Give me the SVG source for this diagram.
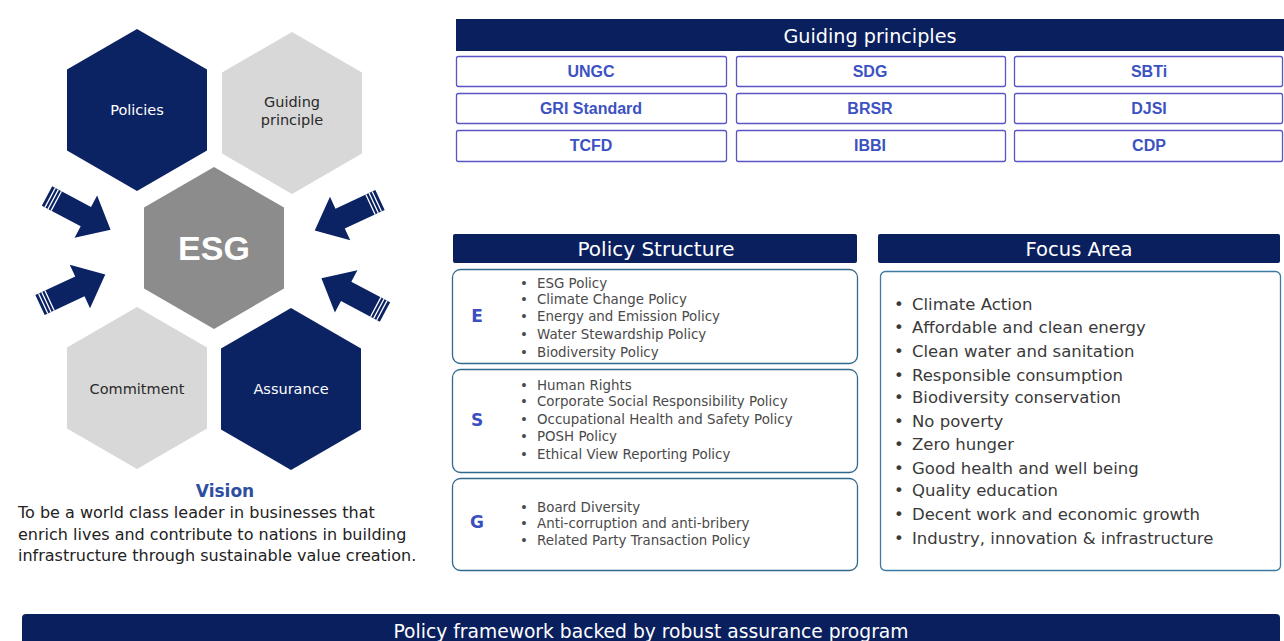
<svg xmlns="http://www.w3.org/2000/svg" width="1284" height="641" viewBox="0 0 1284 641">
<defs>
<style>
.navy{fill:#0b2363}
.lgray{fill:#d8d8d8}
.hdr{fill:#0a1f5e}
.hdrtxt{font-family:"DejaVu Sans","Liberation Sans",sans-serif;font-size:19px;fill:#ffffff;text-anchor:middle;dominant-baseline:central}
.gbox{fill:#ffffff;stroke:#5a55c4;stroke-width:1.3}
.gtxt{font-family:"Liberation Sans",Arial,sans-serif;font-size:16px;font-weight:bold;fill:#3c52c2;text-anchor:middle;dominant-baseline:central}
.pbox{fill:#ffffff;stroke:#2f6a8c;stroke-width:1.3}
.letter{font-family:"DejaVu Sans","Liberation Sans",sans-serif;font-size:17px;font-weight:bold;fill:#3c4fc0;text-anchor:middle;dominant-baseline:central}
.item{font-family:"DejaVu Sans","Liberation Sans",sans-serif;font-size:13.4px;fill:#4a4a4a;dominant-baseline:central}
.fitem{font-family:"DejaVu Sans","Liberation Sans",sans-serif;font-size:16.5px;fill:#3a3a3a;dominant-baseline:central}
.htw{font-family:"DejaVu Sans","Liberation Sans",sans-serif;font-size:14.5px;fill:#ffffff;text-anchor:middle;dominant-baseline:central}
.htd{font-family:"DejaVu Sans","Liberation Sans",sans-serif;font-size:14.5px;fill:#2a2a2a;text-anchor:middle;dominant-baseline:central}
.vis{font-family:"DejaVu Sans","Liberation Sans",sans-serif;font-size:16px;fill:#222222}
</style>
<polygon id="hex" points="0,-81 70,-40.5 70,40.5 0,81 -70,40.5 -70,-40.5"/>
<g id="arrow">
<path d="M0,-11 L44,-11 L44,-24 L72,0 L44,24 L44,11 L0,11 Z" fill="#0b2363"/>
<path d="M3.5,-11 V11 M7,-11 V11 M10.5,-11 V11" stroke="#ffffff" stroke-width="1.3"/>
</g>
</defs>
<rect width="1284" height="641" fill="#ffffff"/>

<g id="node-policies">
<use href="#hex" x="137" y="110" class="navy"/>
<text x="137" y="110" class="htw">Policies</text>
</g>
<g id="node-guiding">
<use href="#hex" x="292" y="113" class="lgray"/>
<text x="292" y="102" class="htd">Guiding</text>
<text x="292" y="120" class="htd">principle</text>
</g>
<g id="node-esg">
<use href="#hex" x="214" y="248" fill="#8c8c8c"/>
<text x="214" y="248" font-family="Liberation Sans,Arial,sans-serif" font-size="34" font-weight="bold" fill="#ffffff" text-anchor="middle" dominant-baseline="central">ESG</text>
</g>
<g id="node-commitment">
<use href="#hex" x="137" y="388" class="lgray"/>
<text x="137" y="389" class="htd">Commitment</text>
</g>
<g id="node-assurance">
<use href="#hex" x="291" y="389" class="navy"/>
<text x="291" y="389" class="htw">Assurance</text>
</g>

<g id="connectors">
<use href="#arrow" transform="translate(47,196) rotate(28)"/>
<use href="#arrow" transform="translate(40,305) rotate(-25)"/>
<use href="#arrow" transform="translate(380,200) rotate(155)"/>
<use href="#arrow" transform="translate(385,312) rotate(208)"/>
</g>

<g id="vision">
<text x="225" y="497" font-family="DejaVu Sans,Liberation Sans,sans-serif" font-size="17" font-weight="bold" fill="#2e4f9f" text-anchor="middle">Vision</text>
<text x="18" y="518" class="vis">To be a world class leader in businesses that</text>
<text x="18" y="540" class="vis">enrich lives and contribute to nations in building</text>
<text x="18" y="561" class="vis">infrastructure through sustainable value creation.</text>
</g>

<g id="guiding-principles">
<rect x="456" y="19" width="830" height="32" class="hdr"/>
<text x="870" y="36" class="hdrtxt" textLength="173" lengthAdjust="spacingAndGlyphs">Guiding principles</text>
<rect x="456.5" y="56.5" width="270" height="30" rx="2" class="gbox"/>
<rect x="736.5" y="56.5" width="269" height="30" rx="2" class="gbox"/>
<rect x="1014.5" y="56.5" width="268" height="30" rx="2" class="gbox"/>
<rect x="456.5" y="93.5" width="270" height="30" rx="2" class="gbox"/>
<rect x="736.5" y="93.5" width="269" height="30" rx="2" class="gbox"/>
<rect x="1014.5" y="93.5" width="268" height="30" rx="2" class="gbox"/>
<rect x="456.5" y="130.5" width="270" height="31" rx="2" class="gbox"/>
<rect x="736.5" y="130.5" width="269" height="31" rx="2" class="gbox"/>
<rect x="1014.5" y="130.5" width="268" height="31" rx="2" class="gbox"/>
<text x="591" y="71" class="gtxt">UNGC</text>
<text x="870" y="71" class="gtxt">SDG</text>
<text x="1149" y="71" class="gtxt">SBTi</text>
<text x="591" y="108" class="gtxt">GRI Standard</text>
<text x="870" y="108" class="gtxt">BRSR</text>
<text x="1149" y="108" class="gtxt">DJSI</text>
<text x="591" y="145" class="gtxt">TCFD</text>
<text x="870" y="145" class="gtxt">IBBI</text>
<text x="1149" y="145" class="gtxt">CDP</text>
</g>

<g id="policy-structure">
<rect x="453" y="234" width="404" height="29" rx="2" class="hdr"/>
<text x="656" y="249" class="hdrtxt" textLength="157" lengthAdjust="spacingAndGlyphs">Policy Structure</text>
</g>
<g id="policy-e">
<rect x="452.5" y="269.5" width="405" height="94" rx="8" class="pbox"/>
<text x="477" y="316" class="letter">E</text>
<text x="520" y="283" class="item">•</text><text x="537" y="283" class="item">ESG Policy</text>
<text x="520" y="299" class="item">•</text><text x="537" y="299" class="item">Climate Change Policy</text>
<text x="520" y="316" class="item">•</text><text x="537" y="316" class="item">Energy and Emission Policy</text>
<text x="520" y="334" class="item">•</text><text x="537" y="334" class="item">Water Stewardship Policy</text>
<text x="520" y="352" class="item">•</text><text x="537" y="352" class="item">Biodiversity Policy</text>
</g>
<g id="policy-s">
<rect x="452.5" y="369.5" width="405" height="103" rx="8" class="pbox"/>
<text x="477" y="420" class="letter">S</text>
<text x="520" y="385" class="item">•</text><text x="537" y="385" class="item">Human Rights</text>
<text x="520" y="401" class="item">•</text><text x="537" y="401" class="item">Corporate Social Responsibility Policy</text>
<text x="520" y="419" class="item">•</text><text x="537" y="419" class="item">Occupational Health and Safety Policy</text>
<text x="520" y="436" class="item">•</text><text x="537" y="436" class="item">POSH Policy</text>
<text x="520" y="454" class="item">•</text><text x="537" y="454" class="item">Ethical View Reporting Policy</text>
</g>
<g id="policy-g">
<rect x="452.5" y="478.5" width="405" height="92" rx="8" class="pbox"/>
<text x="477" y="522" class="letter">G</text>
<text x="520" y="507" class="item">•</text><text x="537" y="507" class="item">Board Diversity</text>
<text x="520" y="523" class="item">•</text><text x="537" y="523" class="item">Anti-corruption and anti-bribery</text>
<text x="520" y="540" class="item">•</text><text x="537" y="540" class="item">Related Party Transaction Policy</text>
</g>

<g id="focus-area">
<rect x="878" y="234" width="402" height="29" rx="2" class="hdr"/>
<text x="1079" y="249" class="hdrtxt" textLength="107" lengthAdjust="spacingAndGlyphs">Focus Area</text>
<rect x="880.5" y="271.5" width="400" height="299" rx="5" fill="#ffffff" stroke="#3a7aa3" stroke-width="1.3"/>
<text x="894" y="304" class="fitem">•</text><text x="912" y="304" class="fitem">Climate Action</text>
<text x="894" y="327" class="fitem">•</text><text x="912" y="327" class="fitem">Affordable and clean energy</text>
<text x="894" y="351" class="fitem">•</text><text x="912" y="351" class="fitem">Clean water and sanitation</text>
<text x="894" y="375" class="fitem">•</text><text x="912" y="375" class="fitem">Responsible consumption</text>
<text x="894" y="397" class="fitem">•</text><text x="912" y="397" class="fitem">Biodiversity conservation</text>
<text x="894" y="421" class="fitem">•</text><text x="912" y="421" class="fitem">No poverty</text>
<text x="894" y="444" class="fitem">•</text><text x="912" y="444" class="fitem">Zero hunger</text>
<text x="894" y="468" class="fitem">•</text><text x="912" y="468" class="fitem">Good health and well being</text>
<text x="894" y="490" class="fitem">•</text><text x="912" y="490" class="fitem">Quality education</text>
<text x="894" y="514" class="fitem">•</text><text x="912" y="514" class="fitem">Decent work and economic growth</text>
<text x="894" y="538" class="fitem">•</text><text x="912" y="538" class="fitem">Industry, innovation &amp; infrastructure</text>
</g>

<g id="footer">
<rect x="22" y="614" width="1258" height="40" rx="4" class="hdr"/>
<text x="651" y="631" class="hdrtxt" textLength="515" lengthAdjust="spacingAndGlyphs">Policy framework backed by robust assurance program</text>
</g>
</svg>
